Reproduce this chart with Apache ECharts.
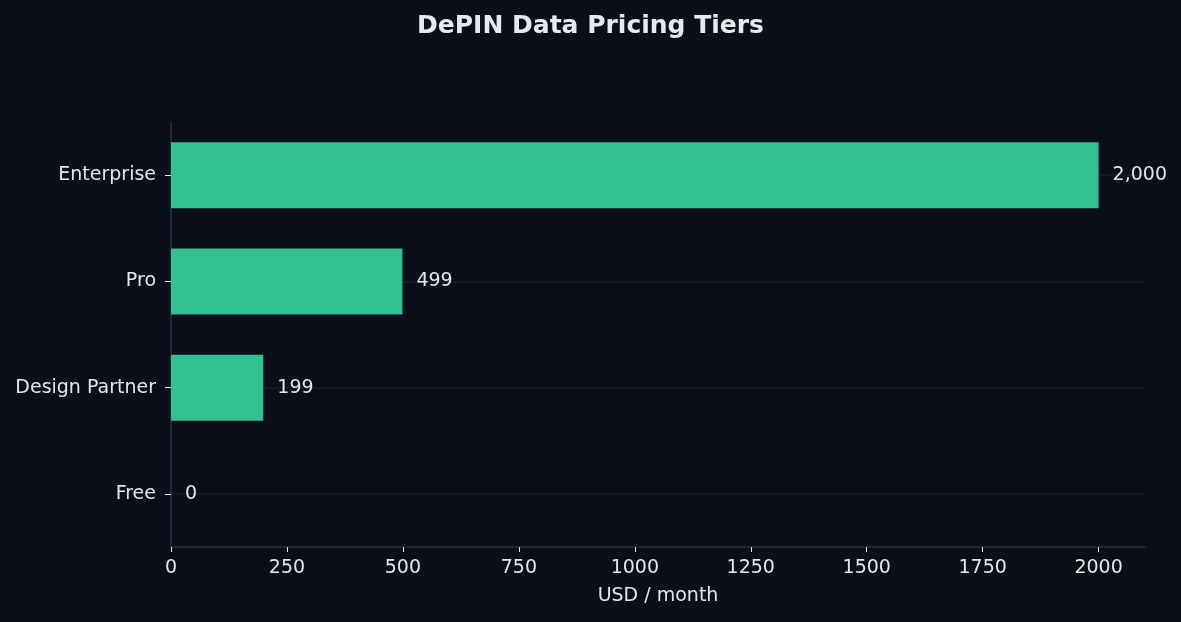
<!DOCTYPE html>
<html>
<head>
<meta charset="utf-8">
<title>DePIN Data Pricing Tiers</title>
<script src="https://cdn.jsdelivr.net/npm/echarts@6/dist/echarts.min.js"></script>
<style>
    html, body {margin: 0; padding: 0; background: #0b0f1a;}
    #chart {width: 1181px; height: 622px;}
</style>
</head>
<body>
<div id="chart"></div>
<script>
	// 数据
	var tiers = ['Free', 'Design Partner', 'Pro', 'Enterprise'];
	var prices = [0, 199, 499, 2000];
	var xTicks = [0, 250, 500, 750, 1000, 1250, 1500, 1750, 2000];

	var textColor = '#e3e6ee';
	var font = 'DejaVu Sans';

	var chart = echarts.init(document.getElementById('chart'));
	var option = {
		backgroundColor: '#0b0f1a',
		textStyle: {fontFamily: font},
		title: {
			text: 'DePIN Data Pricing Tiers',
			left: 'center',
			top: 9,
			textStyle: {
				fontFamily: font,
				fontSize: 25,
				fontWeight: 'bold',
				color: '#e6e9f2'
			}
		},
		grid: {
			left: 171,
			right: 36,
			top: 122,
			bottom: 75,
			containLabel: false
		},
		xAxis: {
			type: 'value',
			min: 0,
			max: 2100,
			interval: 250,
			name: 'USD / month',
			nameLocation: 'middle',
			nameGap: 40,
			nameTextStyle: {color: textColor, fontSize: 19, fontFamily: font},
			axisLine: {show: true, lineStyle: {color: '#2b3142', width: 1.5}},
			axisTick: {show: true, length: 5, customValues: xTicks, lineStyle: {color: textColor}},
			axisLabel: {
				color: textColor, fontSize: 19, margin: 12, customValues: xTicks,
				formatter: function (v) { return String(v); }
			},
			splitLine: {show: false}
		},
		yAxis: {
			type: 'category',
			data: tiers,
			axisLine: {show: true, lineStyle: {color: '#2b3142', width: 1.5}},
			axisTick: {show: true, length: 6, alignWithLabel: true, lineStyle: {color: textColor}},
			axisLabel: {color: textColor, fontSize: 19, margin: 15},
			splitLine: {show: true, alignWithLabel: true, lineStyle: {color: '#1a1f2c', width: 1.5}}
		},
		series: [{
			type: 'bar',
			data: prices,
			barWidth: 66,
			itemStyle: {color: '#31c08e'},
			label: {
				show: true,
				position: 'right',
				distance: 14,
				color: textColor,
				fontSize: 19,
				fontFamily: font,
				formatter: function (p) {
					return p.value.toLocaleString('en-US');
				}
			}
		}]
	};
	chart.setOption(option);
</script>
</body>
</html>
